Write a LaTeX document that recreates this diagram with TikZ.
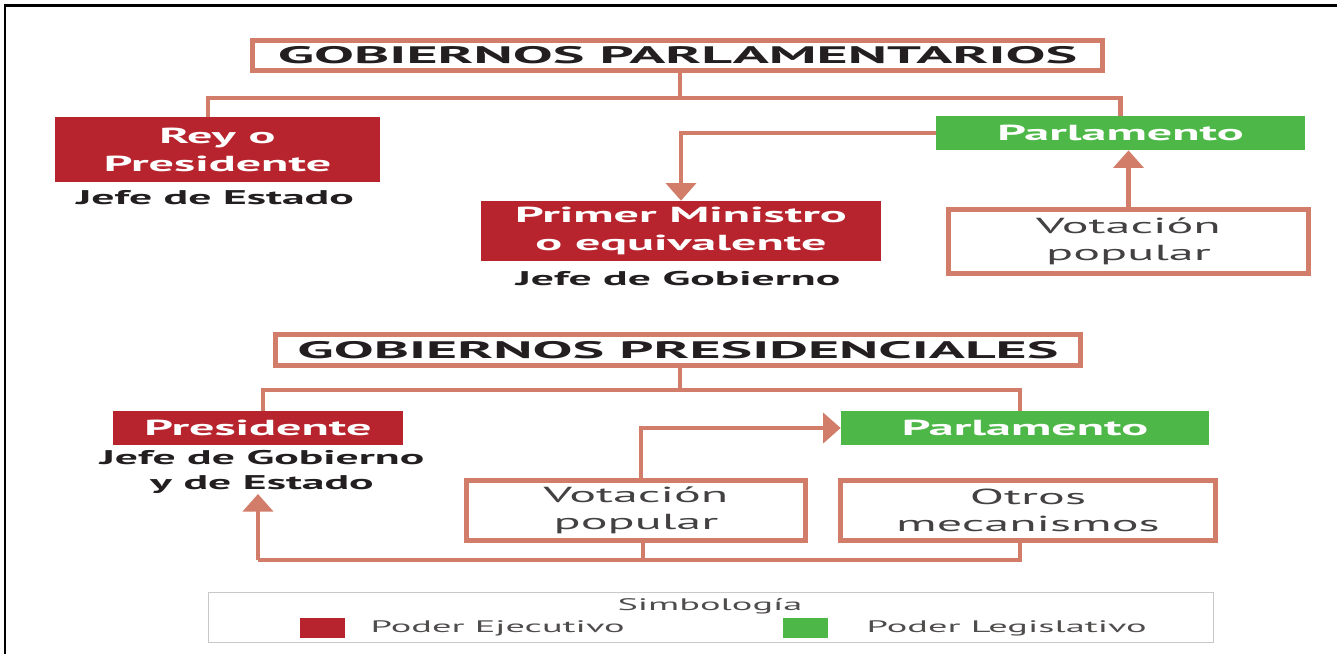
\documentclass[tikz,border=0pt]{standalone}
\usepackage{fontspec}
\setmainfont{PT Sans}[FakeStretch=2.3]
\newfontfamily\titlefont{PT Sans}[FakeStretch=2.5]
\usetikzlibrary{arrows.meta,positioning,calc}
\definecolor{lineColor}{RGB}{210,125,105}
\definecolor{execColor}{RGB}{183,36,46}
\definecolor{legisColor}{RGB}{77,184,72}
\definecolor{textColor}{RGB}{35,31,32}
\definecolor{legendColor}{RGB}{200,200,200}
\tikzset{title/.style={draw=lineColor, line width=3pt, fill=white, inner sep=0pt, text=textColor, font=\titlefont\fontsize{13.6}{16}\selectfont\bfseries}}
\tikzset{executive/.style={fill=execColor, text=white, align=center, inner sep=0pt, font=\fontsize{12.4}{15.9}\selectfont\bfseries}}
\tikzset{legislative/.style={executive, fill=legisColor}}
\tikzset{vote/.style={draw=lineColor, line width=3pt, align=center, inner sep=0pt, text=textColor!85, font=\fontsize{12.4}{15.3}\selectfont}}
\tikzset{caption/.style={align=center, inner sep=0pt, text=textColor, font=\fontsize{11.3}{14.2}\selectfont\bfseries}}
\tikzset{legendText/.style={inner sep=0pt, text=textColor!80, font=\fontsize{9.5}{11}\selectfont}}
\tikzset{tree/.style={draw=lineColor, line width=2.4pt}}
\tikzset{flow/.style={tree, -{Triangle[length=10pt, width=17pt]}}}

\begin{document}
\begin{tikzpicture}[x=0.02cm, y=-0.02cm]
\useasboundingbox (0,0) rectangle (1337,654);
\draw[line width=1.7pt] (5,654) -- (5,5) -- (1337,5);

% Nodes
\node (tPar) [title, minimum width=17cm, minimum height=0.6cm] at (677.5,55.5) {GOBIERNOS PARLAMENTARIOS};

\node (rey) [executive, minimum width=6.5cm, minimum height=1.3cm] at (217.5,149.5) {Rey o\\ Presidente};
\node (jefeEstado) [caption] at (215,198) {Jefe de Estado};

\node (parl1) [legislative, minimum width=7.38cm, minimum height=0.68cm] at (1120.5,133) {Parlamento};

\node (primer) [executive, minimum width=8cm, minimum height=1.2cm] at (681,231) {Primer Ministro\\ o equivalente};
\node (jefeGob) [caption] at (678,279) {Jefe de Gobierno};

\node (vot1) [vote, minimum width=7.2cm, minimum height=1.28cm] at (1128.5,241.5) {Votación\\ popular};

\node (tPres) [title, minimum width=16.1cm, minimum height=0.62cm] at (678,350) {GOBIERNOS PRESIDENCIALES};

\node (pres) [executive, minimum width=5.8cm, minimum height=0.68cm] at (258,428) {Presidente};
\node (jefeGobEst) [caption] at (262,472) {Jefe de Gobierno\\ y de Estado};

\node (parl2) [legislative, minimum width=7.36cm, minimum height=0.68cm] at (1025,428) {Parlamento};

\node (vot2) [vote, minimum width=6.78cm, minimum height=1.2cm] at (636,510.5) {Votación\\ popular};
\node (otros) [vote, minimum width=7.5cm, minimum height=1.2cm] at (1028,510.5) {Otros\\ mecanismos};

% Legend
\node (legend) [draw=legendColor, line width=1pt, minimum width=20.1cm, minimum height=1cm] at (711,617.5) {};
\node (simb) [legendText] at (710,606) {Simbología};
\node (sqExec) [fill=execColor, minimum width=0.9cm, minimum height=0.4cm, inner sep=0pt] at (322.5,628) {};
\node (labelExec) [legendText, right=0.5cm of sqExec] {Poder Ejecutivo};
\node (sqLegis) [fill=legisColor, minimum width=0.9cm, minimum height=0.4cm, inner sep=0pt] at (805.5,628) {};
\node (labelLegis) [legendText, right=0.76cm of sqLegis] {Poder Legislativo};

% Connectors
\coordinate (jPar) at (680,98);
\coordinate (jPres) at (680,390);
\coordinate (base) at (258,560);

\draw[tree] (tPar.south -| jPar) -- (jPar);
\draw[tree] ([xshift=-0.19cm]rey.north) |- (jPar) -| (parl1.north);
\draw[flow] (parl1.west) -| (primer.north);
\draw[flow] (vot1.north) -- (vot1.north |- parl1.south);

\draw[tree] (tPres.south -| jPres) -- (jPres);
\draw[tree] ([xshift=0.1cm]pres.north) |- (jPres) -| ([xshift=-0.1cm]parl2.north);
\draw[flow] ([xshift=0.1cm]vot2.north) |- (parl2.west);
\draw[tree] ([xshift=-0.16cm]otros.south) |- (base);
\draw[tree] ([xshift=0.14cm]vot2.south) -- ([xshift=0.14cm]vot2.south |- base);
\draw[flow] (base) -- (base |- jefeGobEst.south);

\end{tikzpicture}
\end{document}
